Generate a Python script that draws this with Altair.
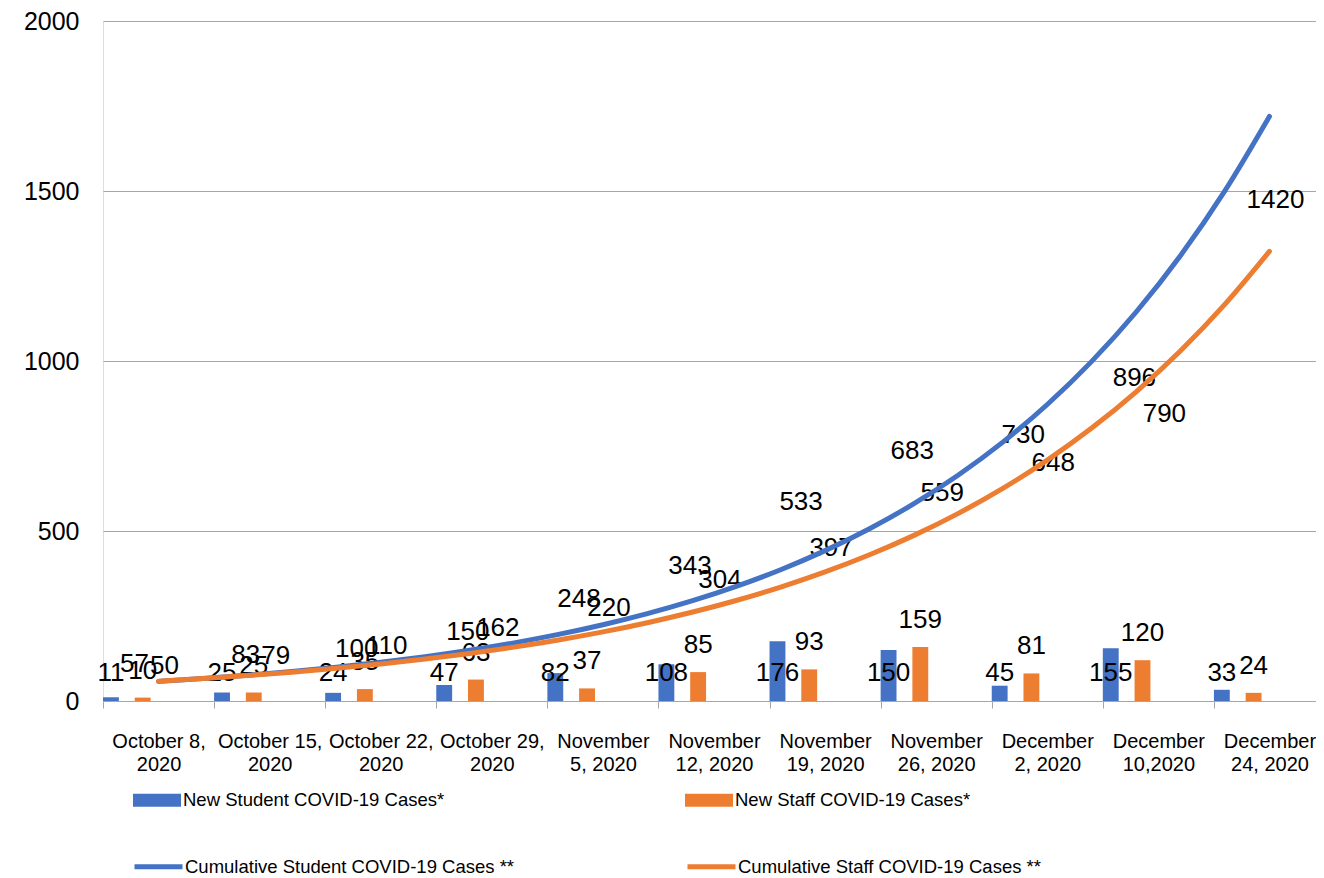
import altair as alt
import pandas as pd

categories = ["October 8, 2020", "October 15, 2020", "October 22, 2020", "October 29, 2020",
              "November 5, 2020", "November 12, 2020", "November 19, 2020", "November 26, 2020",
              "December 2, 2020", "December 10,2020", "December 24, 2020"]
new_student = [11, 25, 24, 47, 82, 108, 176, 150, 45, 155, 33]
new_staff = [10, 25, 35, 63, 37, 85, 93, 159, 81, 120, 24]
# last student cumulative value lies above the axis maximum (its label is hidden)
cum_student = [57, 83, 100, 150, 248, 343, 533, 683, 730, 896, 2110]
cum_staff = [50, 79, 110, 162, 220, 304, 397, 559, 648, 790, 1420]

S_NEW = "New Student COVID-19 Cases*"
T_NEW = "New Staff COVID-19 Cases*"
S_CUM = "Cumulative Student COVID-19 Cases **"
T_CUM = "Cumulative Staff COVID-19 Cases **"
BLUE = "#4472C4"
ORANGE = "#ED7D31"
F = "Liberation Sans"
GRID = "#a6a6a6"
Y_MAX = 2000

bars_rows = []
for i, c in enumerate(categories):
    bars_rows.append({"cat": c, "idx": i, "series": S_NEW, "value": new_student[i]})
    bars_rows.append({"cat": c, "idx": i, "series": T_NEW, "value": new_staff[i]})
bars_df = pd.DataFrame(bars_rows)

cum_rows = []
for i, c in enumerate(categories):
    cum_rows.append({"cat": c, "idx": i, "series": S_CUM, "value": cum_student[i]})
    cum_rows.append({"cat": c, "idx": i, "series": T_CUM, "value": cum_staff[i]})
cum_df = pd.DataFrame(cum_rows)

yscale = alt.Scale(domain=[0, Y_MAX], nice=False, zero=True)
band_scale = alt.Scale(domain=categories, paddingInner=0, paddingOuter=0)
off_scale = alt.Scale(domain=[S_NEW, T_NEW], paddingInner=0.5, paddingOuter=1.0, align=0)
qx_scale = alt.Scale(domain=[-0.5, 10.5], nice=False, zero=False)

label_expr = (
    "indexof(datum.label, 'October') == 0 ? "
    "[slice(datum.label, 0, lastindexof(datum.label, ' ')), slice(datum.label, lastindexof(datum.label, ' ') + 1)] : "
    "[slice(datum.label, 0, indexof(datum.label, ' ')), slice(datum.label, indexof(datum.label, ' ') + 1)]"
)

xaxis = alt.Axis(title=None, tickBand="extent", labelExpr=label_expr, labelFont=F,
                 labelFontSize=20, labelLineHeight=23, labelPadding=23, tickSize=7,
                 tickColor=GRID, domainColor=GRID, labelColor="black", labelAngle=0,
                 grid=False, labelLimit=300)
yaxis = alt.Axis(title=None, values=[0, 500, 1000, 1500, 2000], format="d", grid=True,
                 gridColor=GRID, gridWidth=1, ticks=False, domain=False, labelPadding=24,
                 labelFont=F, labelFontSize=25, labelColor="black")

X_BAND = alt.X("cat:N", scale=band_scale, axis=xaxis)
X_OFF = alt.XOffset("series:N", scale=off_scale)

bars = alt.Chart(bars_df).mark_bar().encode(
    x=X_BAND,
    xOffset=X_OFF,
    y=alt.Y("value:Q", scale=yscale, axis=yaxis),
    fill=alt.Fill("series:N", scale=alt.Scale(domain=[S_NEW, T_NEW], range=[BLUE, ORANGE]),
                  legend=alt.Legend(title=None, orient="none", legendX=30, legendY=755,
                                    direction="horizontal", columns=2, columnPadding=240,
                                    symbolType="M-1,-0.27L1,-0.27L1,0.27L-1,0.27Z",
                                    symbolSize=2304, symbolStrokeWidth=0, labelOffset=2,
                                    labelFont=F, labelFontSize=18.5, labelColor="black",
                                    labelLimit=600, padding=0)),
)

student_bar_labels = alt.Chart(bars_df).transform_filter(
    alt.datum.series == S_NEW
).transform_calculate(zero="0").mark_text(
    font=F, fontSize=26, color="black", baseline="middle", dy=-28
).encode(
    x=X_BAND,
    xOffset=X_OFF,
    y=alt.Y("zero:Q", scale=yscale, axis=yaxis),
    text=alt.Text("value:Q"),
)

staff_bar_labels = alt.Chart(bars_df).transform_filter(
    alt.datum.series == T_NEW
).mark_text(
    font=F, fontSize=26, color="black", baseline="middle", dy=-27
).encode(
    x=X_BAND,
    xOffset=X_OFF,
    y=alt.Y("value:Q", scale=yscale, axis=yaxis),
    text=alt.Text("value:Q"),
)

inner = alt.layer(bars, student_bar_labels, staff_bar_labels)

def cum_labels(series, dx):
    # labels of points above the axis maximum are not shown (as in the original)
    return alt.Chart(cum_df).transform_filter(
        (alt.datum.series == series) & (alt.datum.value <= Y_MAX)
    ).mark_text(
        font=F, fontSize=26, color="black", baseline="middle", dy=-18, dx=dx
    ).encode(
        x=alt.X("idx:Q", scale=qx_scale, axis=None),
        y=alt.Y("value:Q", scale=yscale, axis=yaxis),
        text=alt.Text("value:Q"),
    )

lines = alt.Chart(cum_df).transform_calculate(
    ly="log(datum.value)"
).transform_regression(
    "idx", "ly", method="poly", order=1, groupby=["series"], extent=[0, 10]
).transform_calculate(
    fit="exp(datum.ly)"
).mark_line(strokeWidth=5, strokeCap="round", interpolate="monotone").encode(
    x=alt.X("idx:Q", scale=qx_scale, axis=None),
    y=alt.Y("fit:Q", scale=yscale, axis=yaxis),
    stroke=alt.Stroke("series:N", scale=alt.Scale(domain=[S_CUM, T_CUM], range=[BLUE, ORANGE]),
                      legend=alt.Legend(title=None, orient="none", legendX=29, legendY=819,
                                        direction="horizontal", columns=2, columnPadding=162,
                                        symbolType="stroke", symbolSize=2304,
                                        symbolStrokeWidth=5, labelOffset=0,
                                        labelFont=F, labelFontSize=18.5, labelColor="black",
                                        labelLimit=600, padding=0)),
)

chart = alt.layer(
    inner, cum_labels(S_CUM, -24), cum_labels(T_CUM, 6), lines
).resolve_scale(x="independent").properties(
    width=1222, height=680,
    autosize=alt.AutoSizeParams(type="none"),
    padding={"left": 95, "top": 13, "right": -9, "bottom": 176},
).configure_view(stroke=None).configure(background="white")

chart.save("out.html", embed_options={"renderer": "svg", "actions": False})
